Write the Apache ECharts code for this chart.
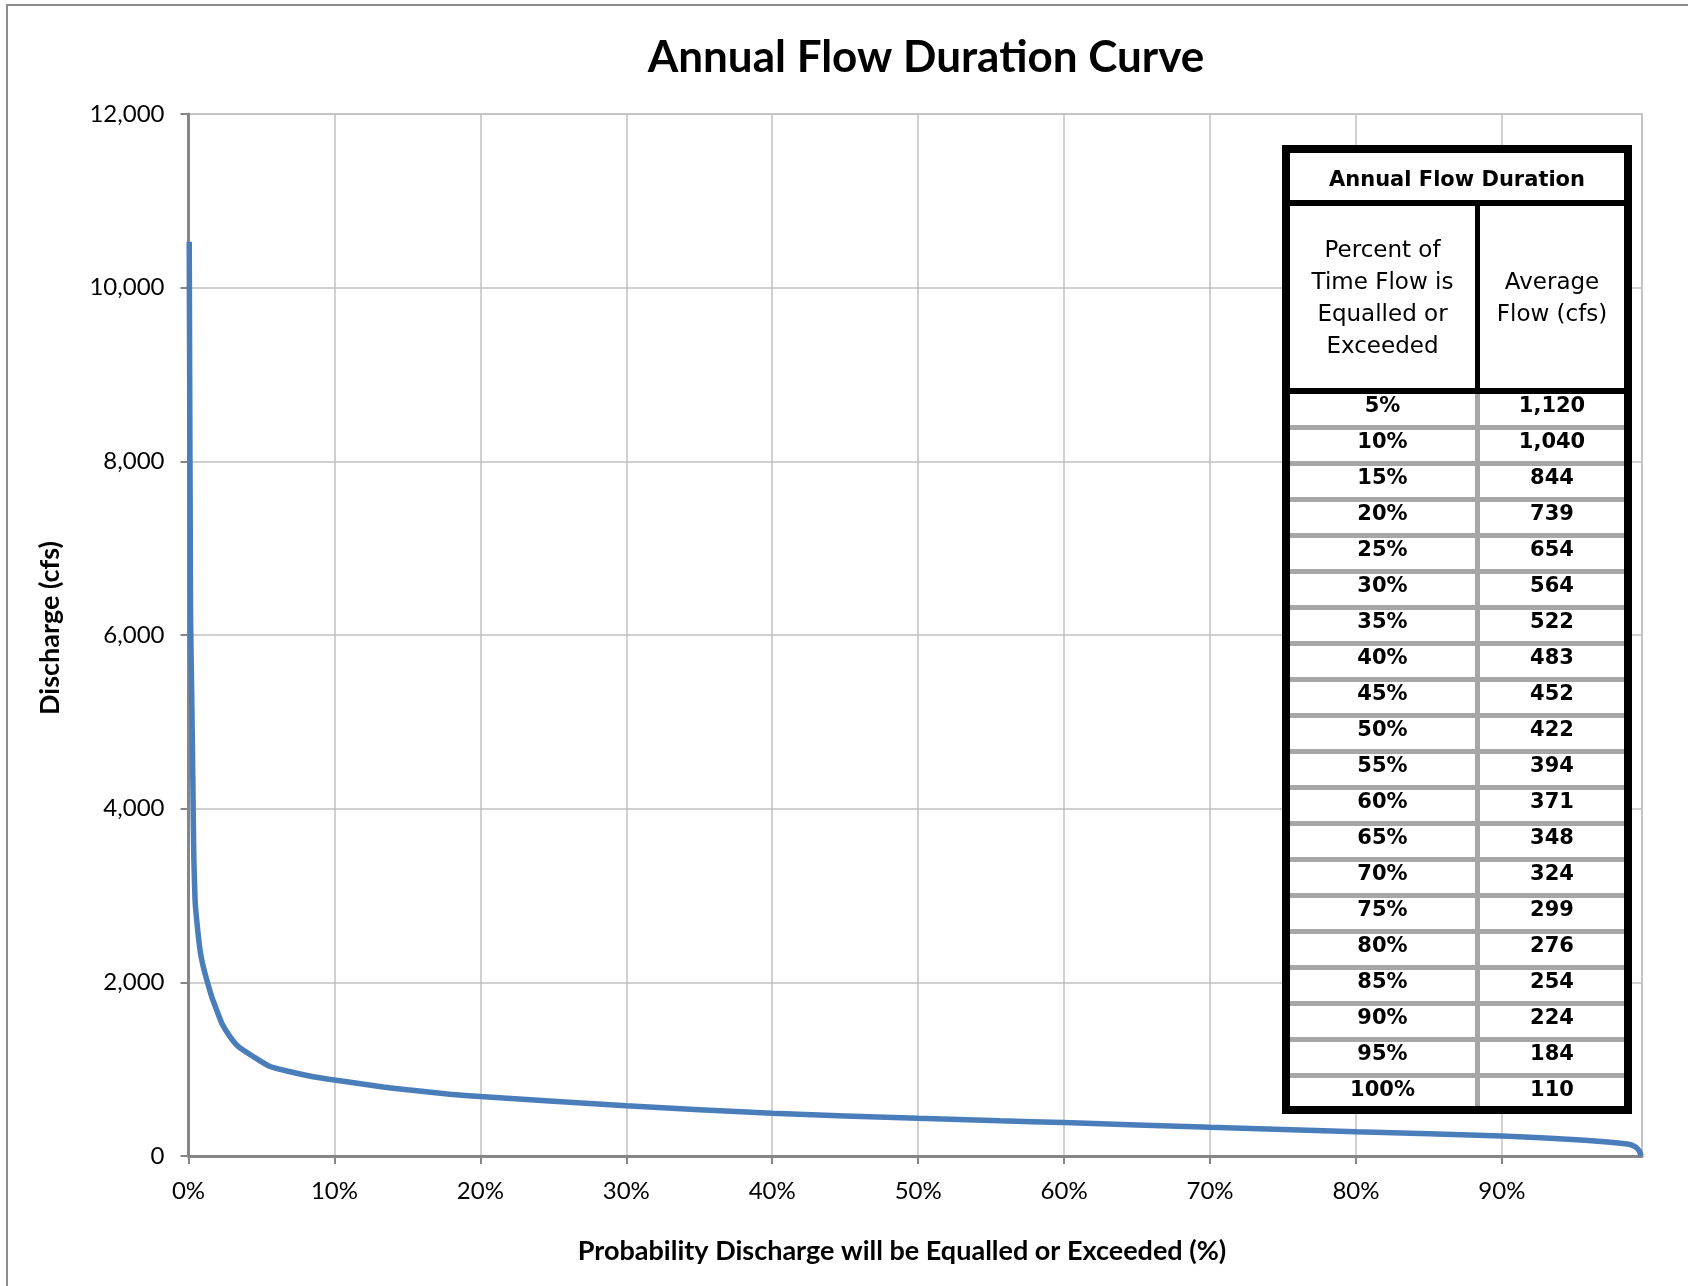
<!DOCTYPE html>
<html>
<head>
<meta charset="utf-8">
<title>Annual Flow Duration Curve</title>
<script src="https://cdn.jsdelivr.net/npm/echarts@6/dist/echarts.min.js"></script>
<style>
  html, body { margin: 0; padding: 0; background: #ffffff; }
  #chart { width: 1688px; height: 1286px; }
</style>
</head>
<body>
<div id="chart"></div>
<script>
// Flow duration curve: exceedance probability (%) and discharge (cfs)
const exceedancePct = [0.05, 0.09, 0.12, 0.14, 0.22, 0.30, 0.36, 0.45, 0.56, 0.79, 1.01, 1.25, 1.59, 1.93, 2.28, 2.84, 3.42, 4.44, 5.59, 6.96, 8.55, 10, 13.35, 15, 17.9, 20, 30, 40, 50, 55.6, 60, 70, 80, 90, 95.4, 98.6, 99.15, 99.4, 99.55];
const dischargeCfs  = [10530, 8500, 7200, 6220, 5320, 4300, 3470, 2950, 2720, 2370, 2180, 2030, 1835, 1680, 1530, 1375, 1260, 1145, 1030, 970, 913, 875, 795, 762, 712, 685, 579, 492, 434, 405, 385, 330, 280, 230, 184, 138, 105, 60, 0];

// Summary table rows
const tablePercent = [5, 10, 15, 20, 25, 30, 35, 40, 45, 50, 55, 60, 65, 70, 75, 80, 85, 90, 95, 100];
const tableFlow    = [1120, 1040, 844, 739, 654, 564, 522, 483, 452, 422, 394, 371, 348, 324, 299, 276, 254, 224, 184, 110];

// Axis ticks
const yTicks = [0, 2000, 4000, 6000, 8000, 10000, 12000];
const xTickStep = 10;
const xMax = 99.6;

const fmt = v => Number(v).toLocaleString('en-US');

const chart = echarts.init(document.getElementById('chart'), null, { renderer: 'canvas' });

// Table drawn as graphic elements over the plot
const TBL = { x0: 1282, y0: 145, x1: 1632, y1: 1114, frame: 8, colX: 1475, colW: 5 };
const innerL = TBL.x0 + TBL.frame, innerR = TBL.x1 - TBL.frame;
const headTitleBottom = 200, headColsTop = 206, headColsBottom = 388, rowsTop = 394, rowPitch = 36, rowH = 31;
const col1C = (innerL + TBL.colX) / 2;
const col2C = (TBL.colX + TBL.colW + innerR) / 2;
const tableFont = '"DejaVu Sans", Verdana, sans-serif';

const tableEls = [];
// outer black frame
tableEls.push({ type: 'rect', shape: { x: TBL.x0, y: TBL.y0, width: TBL.x1 - TBL.x0, height: TBL.y1 - TBL.y0 }, style: { fill: '#000000' } });
// title cell
tableEls.push({ type: 'rect', shape: { x: innerL, y: TBL.y0 + TBL.frame, width: innerR - innerL, height: headTitleBottom - (TBL.y0 + TBL.frame) }, style: { fill: '#ffffff' } });
// header column cells
tableEls.push({ type: 'rect', shape: { x: innerL, y: headColsTop, width: TBL.colX - innerL, height: headColsBottom - headColsTop }, style: { fill: '#ffffff' } });
tableEls.push({ type: 'rect', shape: { x: TBL.colX + TBL.colW, y: headColsTop, width: innerR - TBL.colX - TBL.colW, height: headColsBottom - headColsTop }, style: { fill: '#ffffff' } });
// body background (gray, rows drawn on top leave gray separators)
tableEls.push({ type: 'rect', shape: { x: innerL, y: rowsTop, width: innerR - innerL, height: TBL.y1 - TBL.frame - rowsTop }, style: { fill: '#a6a6a6' } });

tableEls.push({ type: 'text', x: (innerL + innerR) / 2, y: 181, style: { text: 'Annual Flow Duration', font: 'bold 21px ' + tableFont, fill: '#000000', align: 'center', verticalAlign: 'middle' } });
tableEls.push({ type: 'text', x: col1C, y: 299, style: { text: 'Percent of\nTime Flow is\nEqualled or\nExceeded', font: '23px ' + tableFont, lineHeight: 32, fill: '#000000', align: 'center', verticalAlign: 'middle' } });
tableEls.push({ type: 'text', x: col2C, y: 299, style: { text: 'Average\nFlow (cfs)', font: '23px ' + tableFont, lineHeight: 32, fill: '#000000', align: 'center', verticalAlign: 'middle' } });

tablePercent.forEach((p, i) => {
  const top = rowsTop + i * rowPitch;
  const h = (i === tablePercent.length - 1) ? (TBL.y1 - TBL.frame - top) : rowH;
  tableEls.push({ type: 'rect', shape: { x: innerL, y: top, width: TBL.colX - innerL, height: h }, style: { fill: '#ffffff' } });
  tableEls.push({ type: 'rect', shape: { x: TBL.colX + TBL.colW, y: top, width: innerR - TBL.colX - TBL.colW, height: h }, style: { fill: '#ffffff' } });
  tableEls.push({ type: 'text', x: col1C, y: top + 13, style: { text: p + '%', font: 'bold 21px ' + tableFont, fill: '#000000', align: 'center', verticalAlign: 'middle' } });
  tableEls.push({ type: 'text', x: col2C, y: top + 13, style: { text: fmt(tableFlow[i]), font: 'bold 21px ' + tableFont, fill: '#000000', align: 'center', verticalAlign: 'middle' } });
});

const labelFont = 'Lato, "Open Sans", sans-serif';

const option = {
  animation: false,
  backgroundColor: '#ffffff',
  title: {
    text: 'Annual Flow Duration Curve',
    left: 921, top: 31, textAlign: 'center',
    textStyle: { fontFamily: labelFont, fontWeight: 'bold', fontSize: 44, color: '#000000' }
  },
  grid: {
    left: 188.5, right: 46, top: 114, bottom: 130,
    show: true, borderColor: '#bfbfbf', borderWidth: 1.5, backgroundColor: 'transparent'
  },
  xAxis: {
    type: 'value', min: 0, max: xMax, interval: xTickStep,
    axisLine: { show: true, onZero: false, lineStyle: { color: '#868686', width: 3 } },
    axisTick: { show: true, length: 8, lineStyle: { color: '#868686', width: 2 } },
    axisLabel: { margin: 23, showMaxLabel: false, formatter: v => v + '%', fontFamily: labelFont, fontSize: 24, color: '#000000' },
    splitLine: { show: true, lineStyle: { color: '#c0c0c0', width: 1.5 } }
  },
  yAxis: {
    type: 'value', min: yTicks[0], max: yTicks[yTicks.length - 1], interval: yTicks[1] - yTicks[0],
    axisLine: { show: true, lineStyle: { color: '#868686', width: 3 } },
    axisTick: { show: true, length: 8, lineStyle: { color: '#868686', width: 2 } },
    axisLabel: { margin: 24, formatter: v => fmt(v), fontFamily: labelFont, fontSize: 24, color: '#000000' },
    splitLine: { show: true, lineStyle: { color: '#c0c0c0', width: 1.5 } }
  },
  series: [{
    name: 'Discharge',
    type: 'line',
    data: exceedancePct.map((p, i) => [p, dischargeCfs[i]]),
    showSymbol: false,
    smooth: 0.2,
    clip: false,
    lineStyle: { color: '#4a7ebb', width: 5.5 },
    itemStyle: { color: '#4a7ebb' },
    z: 3
  }],
  graphic: [
    // outer chart frame
    { type: 'rect', z: 50, shape: { x: 7, y: 5, width: 1720, height: 1320 }, style: { fill: 'none', stroke: '#8c8c8c', lineWidth: 2 } },
    { type: 'text', z: 50, x: 50, y: 628, rotation: Math.PI / 2,
      style: { text: 'Discharge (cfs)', font: 'bold 27px ' + labelFont, fill: '#000000', align: 'center', verticalAlign: 'middle' } },
    { type: 'text', z: 50, x: 902, y: 1251,
      style: { text: 'Probability Discharge will be Equalled or Exceeded (%)', font: 'bold 27px ' + labelFont, fill: '#000000', align: 'center', verticalAlign: 'middle' } },
    { type: 'group', z: 100, children: tableEls.map(e => Object.assign({ z: 100 }, e)) }
  ]
};

chart.setOption(option);
</script>
</body>
</html>
